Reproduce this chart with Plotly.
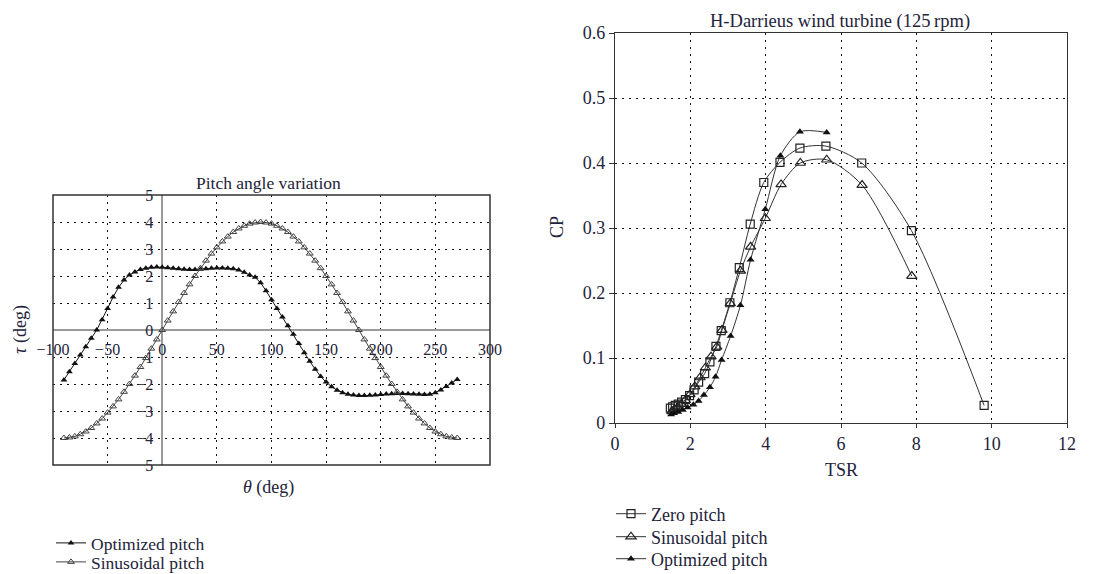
import plotly.graph_objects as go

# ---------------- data: left chart (pitch angle variation) ----------------
theta_deg = [-90, -85, -80, -75, -70, -65, -60, -55, -50, -45, -40, -35, -30, -25, -20, -15, -10, -5,
             0, 5, 10, 15, 20, 25, 30, 35, 40, 45, 50, 55, 60, 65, 70, 75, 80, 85,
             90, 95, 100, 105, 110, 115, 120, 125, 130, 135, 140, 145, 150, 155, 160, 165, 170, 175,
             180, 185, 190, 195, 200, 205, 210, 215, 220, 225, 230, 235, 240, 245, 250, 255, 260, 265,
             270]
optimized_tau = [-1.85, -1.55, -1.24, -0.93, -0.62, -0.31, 0.00, 0.38, 0.80, 1.22, 1.58, 1.85, 2.04, 2.15, 2.24, 2.29, 2.32, 2.33,
                 2.32, 2.31, 2.29, 2.27, 2.25, 2.24, 2.24, 2.25, 2.27, 2.29, 2.30, 2.30, 2.29, 2.27, 2.22, 2.14, 2.04, 1.95,
                 1.75, 1.45, 1.12, 0.80, 0.48, 0.16, -0.16, -0.50, -0.84, -1.16, -1.45, -1.72, -1.93, -2.10, -2.23, -2.32, -2.38, -2.41,
                 -2.43, -2.43, -2.42, -2.41, -2.39, -2.37, -2.36, -2.35, -2.35, -2.36, -2.37, -2.38, -2.39, -2.38, -2.32, -2.22, -2.09, -1.96,
                 -1.83]
sinusoidal_tau = [-4.00, -3.98, -3.94, -3.86, -3.76, -3.63, -3.46, -3.28, -3.06, -2.83, -2.57, -2.29, -2.00, -1.69, -1.37, -1.04, -0.69, -0.35,
                  0.00, 0.35, 0.69, 1.04, 1.37, 1.69, 2.00, 2.29, 2.57, 2.83, 3.06, 3.28, 3.46, 3.63, 3.76, 3.86, 3.94, 3.98,
                  4.00, 3.98, 3.94, 3.86, 3.76, 3.63, 3.46, 3.28, 3.06, 2.83, 2.57, 2.29, 2.00, 1.69, 1.37, 1.04, 0.69, 0.35,
                  0.00, -0.35, -0.69, -1.04, -1.37, -1.69, -2.00, -2.29, -2.57, -2.83, -3.06, -3.28, -3.46, -3.63, -3.76, -3.86, -3.94, -3.98,
                  -4.00]
left_xticks = [-100, -50, 0, 50, 100, 150, 200, 250, 300]
left_xticktext = ["\u2212100", "\u221250", "0", "50", "100", "150", "200", "250", "300"]
left_yticks = [-5, -4, -3, -2, -1, 0, 1, 2, 3, 4, 5]
left_yticktext = ["5", "\u22124", "\u22123", "\u22122", "\u22121", "0", "1", "2", "3", "4", "5"]

# ---------------- data: right chart (CP vs TSR) ----------------
zero_tsr = [9.80, 7.87, 6.55, 5.60, 4.91, 4.38, 3.95, 3.59, 3.30, 3.05, 2.82, 2.68, 2.52, 2.38, 2.22, 2.10, 1.98, 1.87, 1.77, 1.68, 1.60, 1.53, 1.47]
zero_cp = [0.027, 0.296, 0.400, 0.426, 0.423, 0.401, 0.370, 0.306, 0.239, 0.185, 0.142, 0.118, 0.094, 0.076, 0.063, 0.051, 0.042, 0.036, 0.032, 0.029, 0.027, 0.025, 0.023]
sin_tsr = [7.88, 6.56, 5.62, 4.92, 4.41, 3.99, 3.60, 3.33, 3.06, 2.84, 2.70, 2.55, 2.40, 2.26, 2.12, 1.99, 1.87, 1.76, 1.66, 1.58, 1.51]
sin_cp = [0.226, 0.366, 0.405, 0.400, 0.367, 0.315, 0.271, 0.234, 0.184, 0.143, 0.117, 0.102, 0.085, 0.070, 0.056, 0.044, 0.035, 0.029, 0.024, 0.021, 0.018]
opt_tsr = [5.62, 4.91, 4.39, 3.99, 3.60, 3.33, 3.07, 2.83, 2.67, 2.52, 2.36, 2.22, 2.08, 1.93, 1.80, 1.68, 1.57, 1.49]
opt_cp = [0.447, 0.448, 0.411, 0.329, 0.251, 0.181, 0.134, 0.097, 0.071, 0.055, 0.043, 0.034, 0.028, 0.024, 0.020, 0.017, 0.015, 0.013]

# page has an 8px body margin: the figure starts at screen (8, 8)
OX, OY = 8, 8
W, H = 1096 - OX, 574 - OY
FONT = "Liberation Serif"
TXT = "#23233a"


def px_x(p):
    return (p - OX) / W


def px_y(p):
    return 1 - (p - OY) / H


# plot areas in screen pixels
L_X0, L_X1, L_Y0, L_Y1 = 53, 490, 195, 465
R_X0, R_X1, R_Y0, R_Y1 = 615, 1067, 33, 423

lx_dom = [px_x(L_X0), px_x(L_X1)]
ly_dom = [px_y(L_Y1), px_y(L_Y0)]
rx_dom = [px_x(R_X0), px_x(R_X1)]
ry_dom = [px_y(R_Y1), px_y(R_Y0)]

lx_range = [-100, 300]
ly_range = [-5, 5]
yaxis_pos = lx_dom[0] + (0 - lx_range[0]) / (lx_range[1] - lx_range[0]) * (lx_dom[1] - lx_dom[0])
xaxis_pos = ly_dom[0] + (0 - ly_range[0]) / (ly_range[1] - ly_range[0]) * (ly_dom[1] - ly_dom[0])

fig = go.Figure()

fig.add_trace(go.Scatter(
    x=theta_deg, y=optimized_tau, name="Optimized pitch", mode="lines+markers",
    line=dict(color="#111111", width=1),
    marker=dict(symbol="triangle-up", size=6, color="#111111"),
    xaxis="x", yaxis="y", legend="legend"))
fig.add_trace(go.Scatter(
    x=theta_deg, y=sinusoidal_tau, name="Sinusoidal pitch", mode="lines+markers",
    line=dict(color="#444444", width=1),
    marker=dict(symbol="triangle-up-open", size=6, color="#444444", line=dict(width=1)),
    xaxis="x", yaxis="y", legend="legend2"))

fig.add_trace(go.Scatter(
    x=zero_tsr, y=zero_cp, name="Zero pitch", mode="lines+markers",
    line=dict(color="#333333", width=1, shape="spline", smoothing=0.8),
    marker=dict(symbol="square-open", size=8, color="#222222", line=dict(width=1.2)),
    xaxis="x2", yaxis="y2", legend="legend3"))
fig.add_trace(go.Scatter(
    x=sin_tsr, y=sin_cp, name="Sinusoidal pitch", mode="lines+markers",
    line=dict(color="#333333", width=1, shape="spline", smoothing=0.8),
    marker=dict(symbol="triangle-up-open", size=9, color="#222222", line=dict(width=1.2)),
    xaxis="x2", yaxis="y2", legend="legend4"))
fig.add_trace(go.Scatter(
    x=opt_tsr, y=opt_cp, name="Optimized pitch", mode="lines+markers",
    line=dict(color="#333333", width=1, shape="spline", smoothing=0.8),
    marker=dict(symbol="triangle-up", size=7, color="#111111"),
    xaxis="x2", yaxis="y2", legend="legend5"))

grid_dash = "2px,5px"


def leg(x_screen, y_screen, size):
    return dict(x=px_x(x_screen), y=px_y(y_screen), xanchor="left", yanchor="middle",
                bgcolor="rgba(0,0,0,0)", font=dict(size=size, color=TXT),
                itemclick=False, itemdoubleclick=False)


fig.update_layout(
    width=W, height=H,
    margin=dict(l=0, r=0, t=0, b=0, autoexpand=False),
    paper_bgcolor="white", plot_bgcolor="white",
    font=dict(family=FONT, size=16, color=TXT),
    xaxis=dict(domain=lx_dom, range=lx_range, anchor="free", position=xaxis_pos,
               tickvals=left_xticks, ticktext=left_xticktext, ticks="", showline=False,
               ticklabelstandoff=8, automargin=False,
               showgrid=True, gridcolor="#111111", gridwidth=1.3, griddash=grid_dash,
               zeroline=True, zerolinecolor="#9a9a9a", zerolinewidth=2,
               tickfont=dict(size=16, color=TXT)),
    yaxis=dict(domain=ly_dom, range=ly_range, anchor="free", position=yaxis_pos,
               tickvals=left_yticks, ticktext=left_yticktext, ticks="", showline=False,
               ticklabelstandoff=9, automargin=False,
               showgrid=True, gridcolor="#111111", gridwidth=1.3, griddash=grid_dash,
               zeroline=True, zerolinecolor="#9a9a9a", zerolinewidth=2,
               tickfont=dict(size=16, color=TXT)),
    xaxis2=dict(domain=rx_dom, range=[0, 12], dtick=2, tick0=0, anchor="y2",
                showline=True, linecolor="#333333", linewidth=1.3, mirror=True,
                ticks="outside", ticklen=4, tickcolor="#333333", automargin=False,
                showgrid=True, gridcolor="#111111", gridwidth=1.3, griddash=grid_dash,
                zeroline=False, tickfont=dict(size=18, color=TXT)),
    yaxis2=dict(domain=ry_dom, range=[0, 0.6], dtick=0.1, tick0=0, anchor="x2",
                showline=True, linecolor="#333333", linewidth=1.3, mirror=True,
                ticks="outside", ticklen=5, tickcolor="#333333", automargin=False,
                showgrid=True, gridcolor="#111111", gridwidth=1.3, griddash=grid_dash,
                zeroline=False, tickfont=dict(size=18, color=TXT)),
    legend=leg(51, 543, 17.5),
    legend2=leg(51, 562, 17.5),
    legend3=leg(611, 514, 18),
    legend4=leg(611, 537, 18),
    legend5=leg(611, 559, 18),
    showlegend=True,
)

# frame of the left chart
fig.add_shape(type="rect", xref="x domain", yref="y domain", x0=0, x1=1, y0=0, y1=1,
              line=dict(color="#333333", width=1.5), layer="above")

annotations = [
    dict(text="Pitch angle variation", x=px_x(268), y=px_y(183), font=dict(size=17.5)),
    dict(text="<i>\u03b8</i> (deg)", x=px_x(268), y=px_y(487), font=dict(size=18)),
    dict(text="<i>\u03c4</i> (deg)", x=px_x(20), y=px_y(330), textangle=-90, font=dict(size=18)),
    dict(text="H-Darrieus wind turbine (125\u2009rpm)", x=px_x(840), y=px_y(22), font=dict(size=18.5)),
    dict(text="TSR", x=px_x(841), y=px_y(470), font=dict(size=18)),
    dict(text="CP", x=px_x(557), y=px_y(227), textangle=-90, font=dict(size=18)),
]
for a in annotations:
    fig.add_annotation(xref="paper", yref="paper", showarrow=False,
                       xanchor="center", yanchor="middle", **a)

fig.write_html("out.html")
